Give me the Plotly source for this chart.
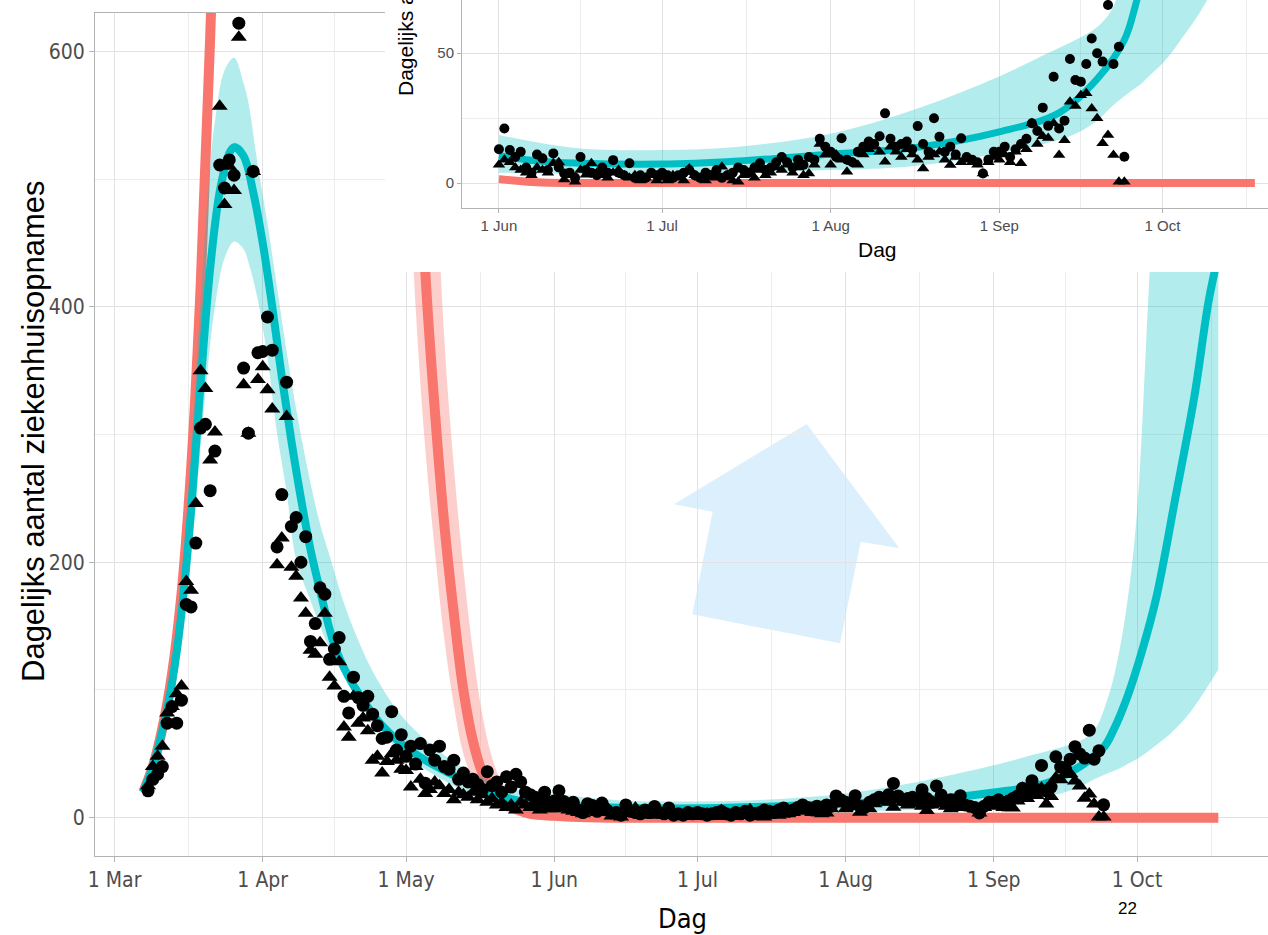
import pandas as pd
import plotly.graph_objects as go

# ---------------- observed daily admissions (two sources), 8 Mar - 24 Sep 2020 ----------------
obs_start = "2020-03-08"
circle_mar = [21, 30, 34, 40, 74, 87, 74, 92, 167, 165, 215, 305, 308, 256, 287, 511, 493, 515, 503, 622, 352, 301, 506, 364]
triangle_mar = [25, 40, 48, 56, 82, 87, 97, 103, 185, 178, 246, 350, 336, 280, 302, 557, 480, 510, 491, 611, 339, 301, 506, 343]
circle_apr = [365, 392, 366, 212, 253, 341, 228, 235, 200, 220, 138, 152, 180, 175, 124, 132, 141, 95, 82, 110,
              94, 88, 95, 81, 72, 62, 63, 83, 53, 65]
triangle_apr = [353, 335, 320, 198, 219, 314, 196, 189, 172, 160, 131, 128, 137, 160, 110, 103, 122, 71, 63, 95,
                74, 78, 68, 45, 48, 35, 44, 50, 45, 38]
circle_may = [48, 56, 42, 58, 27, 53, 45, 56, 40, 38, 45, 30, 35, 28, 30, 26, 22, 36, 25, 28, 20, 32, 24, 34, 28,
              20, 18, 16, 14, 20, 12]
triangle_may = [37, 24, 40, 30, 19, 22, 28, 25, 19, 22, 14, 20, 18, 16, 20, 14, 18, 12, 15, 10, 12, 8, 10, 6, 12,
                10, 8, 9, 6, 8, 7]
circle_jun = [13, 21, 12.7, 10, 12, 6, 4, 11, 9.5, 5, 11.4, 6, 3.7, 4, 2, 10, 5, 4, 3, 6, 4, 8.8, 4, 3, 7.6, 2,
              3, 2, 4, 3]
triangle_jun = [7, 9, 8, 6, 5, 4, 3, 6, 5, 4, 7.6, 8, 1.4, 3, 0.5, 5, 3.2, 7.6, 4, 3, 2, 4, 5, 3, 2, 3, 1, 2, 3, 1]
circle_jul = [4, 3, 2, 3, 4, 5, 3, 2, 4, 3, 5, 2, 3, 4, 6, 5, 4, 6, 7.6, 5, 6, 8, 10, 8, 6, 9, 7, 10, 9, 17, 14]
triangle_jul = [2, 1, 3, 2, 1, 5.6, 3, 2, 1, 3, 2, 6.3, 3, 1, 0.5, 3, 4, 2, 5, 3, 4, 6, 5, 7, 4, 6, 3, 3.7, 7, 15, 11]
circle_aug = [12, 10, 17.2, 9, 8, 12, 14, 16, 15, 18, 26.8, 17, 14, 15, 16, 13, 21.9, 15, 12, 24.9, 17.8, 12, 14,
              11, 17.2, 10, 9, 8, 3.7, 9, 12]
triangle_aug = [7, 11, 9, 4.3, 8, 7, 11, 13, 14, 12, 8.2, 14, 12, 10, 13, 11, 9, 5.6, 10, 11, 12, 9, 6.9, 10, 8,
                9, 8, 7, 3.7, 8, 10]
circle_sep = [12, 14, 10, 13, 15, 17, 23, 20, 29, 22, 40.9, 21, 24, 47.7, 39.6, 39, 45.8, 55.6, 49.9, 46.7, 68.5,
              45.8, 52.4, 10.1]
triangle_sep = [9, 11, 8, 12, 7.6, 13, 23, 15, 18, 17.3, 23, 10.8, 16.5, 31.3, 29.6, 33.8, 34.5, 28.7, 24.9, 15.3,
                18.5, 10.8, 0.5, 0.5]

# ---------------- model fit (teal) ----------------
fit_dates = ["2020-03-07", "2020-03-09", "2020-03-11", "2020-03-13", "2020-03-15", "2020-03-17", "2020-03-19",
             "2020-03-21", "2020-03-23", "2020-03-25", "2020-03-26", "2020-03-28", "2020-03-30", "2020-04-01",
             "2020-04-03", "2020-04-05", "2020-04-07", "2020-04-09", "2020-04-11", "2020-04-13", "2020-04-16",
             "2020-04-19", "2020-04-22", "2020-04-26", "2020-04-30", "2020-05-05", "2020-05-10", "2020-05-15",
             "2020-05-20", "2020-05-25", "2020-06-01", "2020-06-08", "2020-06-15", "2020-07-01", "2020-07-15",
             "2020-07-30", "2020-08-17", "2020-09-01", "2020-09-12", "2020-09-19", "2020-09-24", "2020-09-26",
             "2020-09-29", "2020-10-02", "2020-10-05", "2020-10-09", "2020-10-13", "2020-10-16", "2020-10-18"]
fit_mid = [20, 40, 68, 105, 160, 240, 340, 430, 490, 520, 525, 518, 490, 450, 400, 345, 295, 250, 210, 178, 135,
           110, 92, 72, 58, 45, 35, 26, 18, 13, 10.5, 8.5, 7.7, 7.3, 8.5, 10.8, 13.8, 19.7, 27, 40, 55, 68, 95,
           130, 172, 250, 330, 405, 440]

band_dates = ["2020-03-07", "2020-03-09", "2020-03-11", "2020-03-13", "2020-03-15", "2020-03-17", "2020-03-19",
              "2020-03-21", "2020-03-22", "2020-03-24", "2020-03-26", "2020-03-28", "2020-03-29", "2020-03-31",
              "2020-04-02", "2020-04-04", "2020-04-06", "2020-04-08", "2020-04-11", "2020-04-13", "2020-04-15",
              "2020-04-18", "2020-04-20", "2020-04-23", "2020-04-25", "2020-04-28", "2020-04-30", "2020-05-03",
              "2020-05-05", "2020-05-08", "2020-05-10", "2020-05-13", "2020-05-15", "2020-05-20", "2020-05-25",
              "2020-06-01", "2020-06-15", "2020-07-01", "2020-07-15", "2020-08-01", "2020-08-16", "2020-09-01",
              "2020-09-10", "2020-09-15", "2020-09-19", "2020-09-22", "2020-09-25", "2020-09-27", "2020-09-29",
              "2020-10-01", "2020-10-03", "2020-10-04", "2020-10-08", "2020-10-12", "2020-10-18"]
band_high = [26, 48, 80, 125, 185, 285, 405, 510, 545, 585, 595, 575, 560, 510, 465, 415, 365, 320, 262, 230, 205,
             168, 148, 122, 108, 90, 80, 68, 61, 52, 46, 39, 35, 27, 21, 18.5, 13.5, 12.7, 14, 19, 28, 41, 50, 55,
             60, 68, 95, 125, 170, 240, 380, 460, 900, 1500, 2600]
band_low = [16, 33, 58, 92, 140, 205, 290, 370, 400, 438, 451, 445, 435, 405, 360, 301, 255, 202, 170, 150, 132,
            113, 100, 82, 72, 58, 51, 43, 38, 31, 27, 21, 18, 12, 8, 4, 3.5, 3.5, 4, 5, 6.5, 11.5, 15.5, 19, 24, 30,
            35, 38, 42, 46, 51, 54, 66, 82, 116]

# ---------------- scenario without measures (red) ----------------
alt_dates = ["2020-03-07", "2020-03-09", "2020-03-11", "2020-03-13", "2020-03-15", "2020-03-17", "2020-03-19",
             "2020-03-21", "2020-03-23", "2020-03-27", "2020-04-10", "2020-04-27", "2020-05-01", "2020-05-03",
             "2020-05-05", "2020-05-07", "2020-05-09", "2020-05-11", "2020-05-13", "2020-05-15", "2020-05-17",
             "2020-05-19", "2020-05-21", "2020-05-24", "2020-05-27", "2020-06-01", "2020-06-08", "2020-06-15",
             "2020-10-18"]
alt_mid = [20, 40, 70, 112, 175, 272, 415, 610, 880, 1700, 5000, 1800, 900, 620, 430, 320, 230, 160, 100, 60, 35,
           22, 14, 7, 3, 1.5, 0.3, 0, 0]

altband_dates = ["2020-05-01", "2020-05-03", "2020-05-05", "2020-05-07", "2020-05-09", "2020-05-11", "2020-05-13",
                 "2020-05-15", "2020-05-17", "2020-05-19", "2020-05-21", "2020-05-24", "2020-05-27", "2020-06-01",
                 "2020-06-08", "2020-06-15", "2020-10-18"]
altband_high = [1500, 1100, 800, 540, 375, 275, 195, 130, 80, 47, 28, 14, 8, 3, 1, 0.5, 0.5]
altband_low = [560, 400, 290, 210, 140, 88, 50, 30, 18, 12, 7, 2, 0.5, 0, -0.5, -0.5, -0.5]

# axis labels / ticks
main_months = ["2020-03-01", "2020-04-01", "2020-05-01", "2020-06-01", "2020-07-01", "2020-08-01",
               "2020-09-01", "2020-10-01"]
inset_months = ["2020-06-01", "2020-07-01", "2020-08-01", "2020-09-01", "2020-10-01"]
main_yticks = [0, 200, 400, 600]
main_yminor = [100, 300, 500]
inset_yticks = [0, 50]
inset_yminor = [25]
y_title = "Dagelijks aantal ziekenhuisopnames"
x_title = "Dag"
page_number = "22"

# ---------------- styling ----------------
TEAL = "#00BFC4"
TEAL_BAND = "rgba(0,191,196,0.30)"
RED = "#F8766D"
RED_BAND = "rgba(248,118,109,0.35)"
AXC = "#b3b3b3"
GRID = "#e2e2e2"
GRID_MINOR = "#ececec"
TICKC = "#4d4d4d"
NARROW = "Liberation Sans Narrow, DejaVu Sans Condensed, Arial Narrow, Liberation Sans, sans-serif"
SANS = "Liberation Sans, Arial, sans-serif"

W, H = 1268, 935
ML, MB = 95, 79
PW, PH = W - ML, H - MB


def px(x):
    return (x - ML) / PW


def py(y):
    return (PH - y) / PH


def midpoints(months, before, after):
    ms = pd.to_datetime([before] + months + [after])
    return [(ms[i] + (ms[i + 1] - ms[i]) / 2).strftime("%Y-%m-%d %H:%M") for i in range(len(ms) - 1)]


circles = circle_mar + circle_apr + circle_may + circle_jun + circle_jul + circle_aug + circle_sep
triangles = triangle_mar + triangle_apr + triangle_may + triangle_jun + triangle_jul + triangle_aug + triangle_sep
obs_dates = pd.date_range(obs_start, periods=len(circles), freq="D")


def part(dates, values, start):
    d = pd.Series(pd.to_datetime(dates))
    v = pd.Series(values, dtype=float)
    if start is not None:
        keep = d >= pd.Timestamp(start)
        d, v = d[keep], v[keep]
    return list(d), list(v)


fig = go.Figure()


def add_panel(xa, ya, start, w_red, w_teal, s_circ, s_tri):
    common = dict(xaxis=xa, yaxis=ya, showlegend=False, hoverinfo="skip")
    x, y = part(altband_dates, altband_low, start)
    fig.add_trace(go.Scatter(x=x, y=y, mode="lines", line=dict(width=0, shape="spline"), **common))
    x, y = part(altband_dates, altband_high, start)
    fig.add_trace(go.Scatter(x=x, y=y, mode="lines", line=dict(width=0, shape="spline"),
                             fill="tonexty", fillcolor=RED_BAND, **common))
    x, y = part(alt_dates, alt_mid, start)
    fig.add_trace(go.Scatter(x=x, y=y, mode="lines", line=dict(color=RED, width=w_red, shape="spline"), **common))
    x, y = part(band_dates, band_low, start)
    fig.add_trace(go.Scatter(x=x, y=y, mode="lines", line=dict(width=0, shape="spline"), **common))
    x, y = part(band_dates, band_high, start)
    fig.add_trace(go.Scatter(x=x, y=y, mode="lines", line=dict(width=0, shape="spline"),
                             fill="tonexty", fillcolor=TEAL_BAND, **common))
    x, y = part(fit_dates, fit_mid, start)
    fig.add_trace(go.Scatter(x=x, y=y, mode="lines", line=dict(color=TEAL, width=w_teal, shape="spline"), **common))
    x, y = part(obs_dates, circles, start)
    fig.add_trace(go.Scatter(x=x, y=y, mode="markers",
                             marker=dict(symbol="circle", size=s_circ, color="black", line=dict(width=0)), **common))
    x, y = part(obs_dates, triangles, start)
    fig.add_trace(go.Scatter(x=x, y=y, mode="markers",
                             marker=dict(symbol="triangle-up", size=s_tri, color="black", line=dict(width=0)),
                             **common))


# main panel
add_panel("x", "y", None, 10, 8, 13, 14)
# white cover panel behind the inset (no data)
fig.add_trace(go.Scatter(x=[0.5], y=[0.5], xaxis="x2", yaxis="y2", mode="markers",
                         marker=dict(opacity=0), showlegend=False, hoverinfo="skip"))
# inset panel (from 1 June)
add_panel("x3", "y3", "2020-06-01", 8, 7, 10, 11)

axis_common = dict(showline=True, linecolor=AXC, linewidth=1, ticks="outside", tickcolor=AXC, tickwidth=1,
                   showgrid=True, gridcolor=GRID, gridwidth=1, zeroline=False, fixedrange=True)

fig.update_layout(
    width=W, height=H, template="none",
    margin=dict(l=ML, r=0, t=0, b=MB, pad=0),
    paper_bgcolor="white", plot_bgcolor="white", showlegend=False,
    font=dict(family=SANS, color=TICKC),
    xaxis=dict(domain=[0, 1], anchor="y", type="date",
               range=["2020-02-25 21:36", "2020-10-28 09:36"],
               tickvals=main_months, tickformat="%-d %b", ticklen=5, mirror=True,
               tickfont=dict(family=NARROW, size=21, color=TICKC),
               minor=dict(tickvals=midpoints(main_months, "2020-02-01", "2020-11-01"), showgrid=True,
                          gridcolor=GRID_MINOR, gridwidth=1, ticks=""),
               **axis_common),
    yaxis=dict(domain=[0, py(13)], anchor="x", range=[-30, 630], tickvals=main_yticks, ticklen=5,
               tickfont=dict(family=NARROW, size=21, color=TICKC),
               minor=dict(tickvals=main_yminor, showgrid=True, gridcolor=GRID_MINOR, gridwidth=1, ticks=""),
               **axis_common),
    xaxis2=dict(domain=[px(385), 1], anchor="y2", range=[0, 1], visible=False, fixedrange=True),
    yaxis2=dict(domain=[py(272), 1], anchor="x2", range=[0, 1], visible=False, fixedrange=True),
    xaxis3=dict(domain=[px(462), 1], anchor="y3", type="date",
                range=["2020-05-25 05:00", "2020-10-20 10:00"],
                tickvals=inset_months, tickformat="%-d %b", ticklen=4,
                tickfont=dict(family=SANS, size=15, color=TICKC),
                minor=dict(tickvals=midpoints(inset_months, "2020-05-01", "2020-11-01"), showgrid=True,
                           gridcolor=GRID_MINOR, gridwidth=1, ticks=""),
                **axis_common),
    yaxis3=dict(domain=[py(208), 1], anchor="x3", range=[-9.6, 70.4], tickvals=inset_yticks, ticklen=4,
                tickfont=dict(family=SANS, size=15, color=TICKC),
                minor=dict(tickvals=inset_yminor, showgrid=True, gridcolor=GRID_MINOR, gridwidth=1, ticks=""),
                **axis_common),
)

# decorative arrow (pixel outline converted to paper coordinates)
arrow_px = [(806.7, 424), (899.3, 548.3), (860.7, 541.7), (840, 643.3), (692.3, 614.3), (712.7, 511.7), (674, 504.3)]
path = "M " + " L ".join(f"{px(a):.5f},{py(b):.5f}" for a, b in arrow_px) + " Z"
fig.add_shape(type="path", path=path, xref="paper", yref="paper", fillcolor="#dceffc",
              line=dict(width=0), layer="below")

annos = [
    dict(text=x_title, x=px(682), y=py(918), font=dict(family=NARROW, size=27, color="black")),
    dict(text=y_title, x=px(33), y=py(432), textangle=-90, font=dict(family=SANS, size=31, color="black")),
    dict(text=x_title, x=px(877), y=py(249), font=dict(family=SANS, size=21, color="black")),
    dict(text=y_title, x=px(405), y=py(98), textangle=-90, yanchor="bottom",
         font=dict(family=SANS, size=21, color="black")),
    dict(text=page_number, x=px(1127), y=py(908), font=dict(family=SANS, size=17, color="black")),
]
for a in annos:
    base = dict(xref="paper", yref="paper", showarrow=False, xanchor="center", yanchor="middle")
    base.update(a)
    fig.add_annotation(**base)

fig.write_html("out.html", config={"displayModeBar": False},
               post_script="document.body.style.margin='0px';document.body.style.overflow='hidden';")
